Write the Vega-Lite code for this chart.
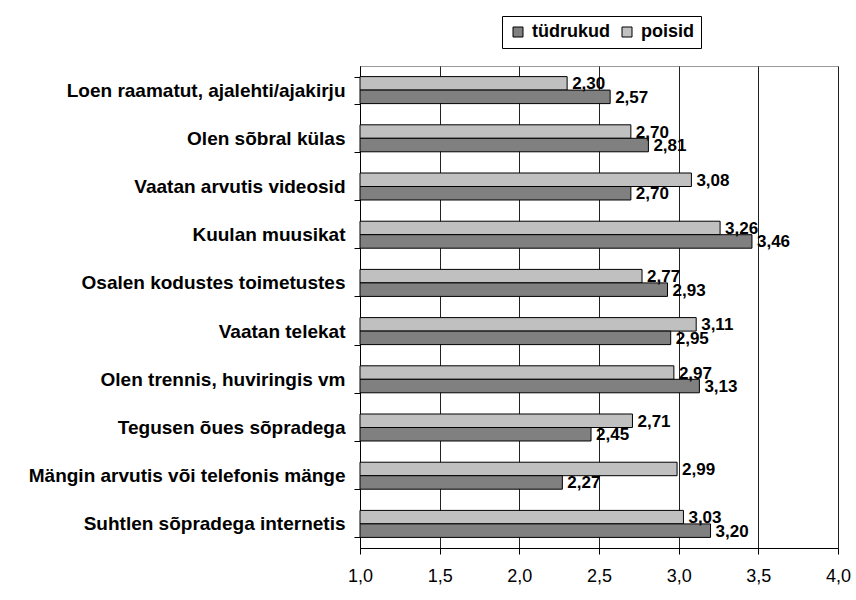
{
  "$schema": "https://vega.github.io/schema/vega-lite/v6.json",
  "autosize": {"type": "none"},
  "width": 478,
  "height": 482,
  "padding": {"left": 360, "top": 66, "right": 18, "bottom": 52},
  "background": "white",
  "config": {
    "locale": {"number": {"decimal": ",", "thousands": " ", "grouping": [3], "currency": ["", " €"]}},
    "font": "Liberation Sans",
    "view": {"stroke": "#999999", "strokeWidth": 1}
  },
  "data": {
    "values": [
      {"tegevus": "Loen raamatut, ajalehti/ajakirju", "grupp": "poisid", "vaartus": 2.30},
      {"tegevus": "Loen raamatut, ajalehti/ajakirju", "grupp": "tüdrukud", "vaartus": 2.57},
      {"tegevus": "Olen sõbral külas", "grupp": "poisid", "vaartus": 2.70},
      {"tegevus": "Olen sõbral külas", "grupp": "tüdrukud", "vaartus": 2.81},
      {"tegevus": "Vaatan arvutis videosid", "grupp": "poisid", "vaartus": 3.08},
      {"tegevus": "Vaatan arvutis videosid", "grupp": "tüdrukud", "vaartus": 2.70},
      {"tegevus": "Kuulan muusikat", "grupp": "poisid", "vaartus": 3.26},
      {"tegevus": "Kuulan muusikat", "grupp": "tüdrukud", "vaartus": 3.46},
      {"tegevus": "Osalen kodustes toimetustes", "grupp": "poisid", "vaartus": 2.77},
      {"tegevus": "Osalen kodustes toimetustes", "grupp": "tüdrukud", "vaartus": 2.93},
      {"tegevus": "Vaatan telekat", "grupp": "poisid", "vaartus": 3.11},
      {"tegevus": "Vaatan telekat", "grupp": "tüdrukud", "vaartus": 2.95},
      {"tegevus": "Olen trennis, huviringis vm", "grupp": "poisid", "vaartus": 2.97},
      {"tegevus": "Olen trennis, huviringis vm", "grupp": "tüdrukud", "vaartus": 3.13},
      {"tegevus": "Tegusen õues sõpradega ", "grupp": "poisid", "vaartus": 2.71},
      {"tegevus": "Tegusen õues sõpradega ", "grupp": "tüdrukud", "vaartus": 2.45},
      {"tegevus": "Mängin arvutis või telefonis mänge", "grupp": "poisid", "vaartus": 2.99},
      {"tegevus": "Mängin arvutis või telefonis mänge", "grupp": "tüdrukud", "vaartus": 2.27},
      {"tegevus": "Suhtlen sõpradega internetis", "grupp": "poisid", "vaartus": 3.03},
      {"tegevus": "Suhtlen sõpradega internetis", "grupp": "tüdrukud", "vaartus": 3.20}
    ]
  },
  "encoding": {
    "y": {
      "field": "tegevus", "type": "nominal", "sort": null,
      "scale": {"paddingInner": 0.44, "paddingOuter": 0.22},
      "axis": {
        "title": null, "tickBand": "extent", "domainColor": "black", "tickColor": "black",
        "tickSize": 6, "labelPadding": 9, "labelFont": "Liberation Sans", "labelFontSize": 19,
        "labelFontWeight": "bold", "labelColor": "black", "labelLimit": 400
      }
    },
    "yOffset": {"field": "grupp", "type": "nominal", "sort": ["poisid", "tüdrukud"]}
  },
  "layer": [
    {
      "mark": {"type": "bar", "stroke": "black", "strokeWidth": 1},
      "encoding": {
        "x": {
          "field": "vaartus", "type": "quantitative",
          "scale": {"domain": [1, 4], "zero": false, "nice": false},
          "axis": {
            "title": null, "values": [1, 1.5, 2, 2.5, 3, 3.5, 4], "format": ".1f",
            "grid": true, "gridColor": "#222222", "gridWidth": 1, "domainColor": "black",
            "tickColor": "black", "tickSize": 6, "labelPadding": 13, "labelFontSize": 18,
            "labelColor": "black", "labelFont": "Liberation Sans", "labelFlush": false
          }
        },
        "x2": {"datum": 1},
        "color": {
          "field": "grupp", "type": "nominal",
          "scale": {"domain": ["tüdrukud", "poisid"], "range": ["#808080", "#C0C0C0"]},
          "legend": {
            "title": null, "orient": "none", "direction": "horizontal",
            "legendX": 142, "legendY": -50, "padding": 7,
            "strokeColor": "black", "fillColor": "white",
            "symbolType": "square", "symbolSize": 100, "symbolStrokeColor": "black",
            "symbolStrokeWidth": 1, "symbolOpacity": 1,
            "labelFontSize": 18, "labelFontWeight": "bold", "labelColor": "black",
            "labelFont": "Liberation Sans", "columnPadding": 8, "labelOffset": 5
          }
        }
      }
    },
    {
      "mark": {"type": "text", "align": "left", "baseline": "middle", "dx": 5, "dy": 1, "fontSize": 17, "fontWeight": "bold", "color": "black"},
      "encoding": {
        "x": {"field": "vaartus", "type": "quantitative"},
        "text": {"field": "vaartus", "type": "quantitative", "format": ".2f"}
      }
    }
  ]
}
